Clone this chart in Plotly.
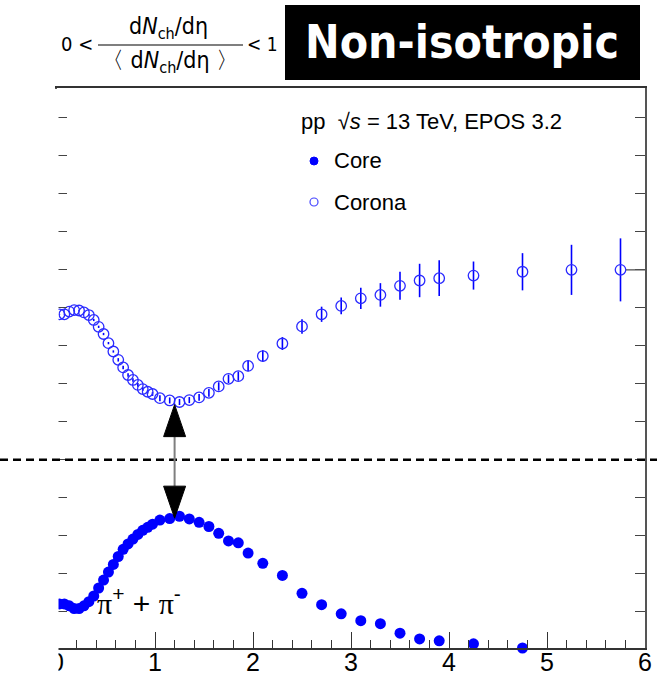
import plotly.graph_objects as go

# ---------------- data ----------------
pt = [0.025, 0.075, 0.125, 0.175, 0.225, 0.275, 0.325, 0.375, 0.425, 0.475,
      0.525, 0.575, 0.625, 0.675, 0.725, 0.775, 0.825, 0.875, 0.925, 0.975,
      1.05, 1.15, 1.25, 1.35, 1.45, 1.55, 1.65, 1.75, 1.85, 1.95,
      2.1, 2.3, 2.5, 2.7, 2.9, 3.1, 3.3, 3.5, 3.7, 3.9,
      4.25, 4.75, 5.25, 5.75]

corona = [8.79, 8.79, 8.86, 8.90, 8.89, 8.84, 8.77, 8.64, 8.46, 8.27,
          8.03, 7.81, 7.59, 7.39, 7.19, 7.06, 6.93, 6.82, 6.75, 6.69,
          6.58, 6.52, 6.48, 6.53, 6.60, 6.72, 6.89, 7.09, 7.16, 7.43,
          7.69, 8.02, 8.47, 8.79, 9.01, 9.21, 9.30, 9.54, 9.68, 9.74,
          9.81, 9.91, 9.96, 9.96]

corona_err = [0.01, 0.01, 0.01, 0.01, 0.01, 0.01, 0.03, 0.03, 0.03, 0.03,
              0.03, 0.03, 0.045, 0.045, 0.045, 0.045, 0.05, 0.05, 0.05, 0.05,
              0.08, 0.08, 0.08, 0.08, 0.09, 0.10, 0.11, 0.11, 0.12, 0.14,
              0.15, 0.17, 0.19, 0.20, 0.22, 0.28, 0.31, 0.37, 0.44, 0.47,
              0.37, 0.49, 0.66, 0.83]

core_pt = pt[:42]
core = [1.16, 1.16, 1.11, 1.04, 1.04, 1.11, 1.22, 1.37, 1.58, 1.79,
        2.00, 2.20, 2.41, 2.60, 2.74, 2.87, 2.99, 3.10, 3.18, 3.26,
        3.37, 3.41, 3.47, 3.40, 3.31, 3.20, 3.02, 2.82, 2.77, 2.50,
        2.23, 1.91, 1.44, 1.14, 0.90, 0.72, 0.64, 0.39, 0.24, 0.19,
        0.11, 0.00]

x_ticks = [0, 1, 2, 3, 4, 5, 6]
x_tick_labels = ["0", "1", "2", "3", "4", "5", "6"]

# ---------------- layout geometry ----------------
W, H = 657, 680
ML, MR, MT, MB = 57, 12, 88, 32
PW, PH = W - ML - MR, H - MT - MB
XR = [0, 6]
YR = [0, 14.75]
Y_TICK0 = 0.96
DASH_Y = Y_TICK0 + 4
LONG_TICK_Y = Y_TICK0 + 9
ARROW_X = 1.2
ARROW_TOP = 6.41
ARROW_BOT = 3.42

ux = (XR[1] - XR[0]) / PW
uy = (YR[1] - YR[0]) / PH


def fx(px):
    return (px - ML) / PW


def fy(py):
    return (H - MB - py) / PH


BLUE = "#0000ff"
FONT = "Liberation Sans, Arial, sans-serif"
NARROW = "Liberation Sans Narrow, DejaVu Sans Condensed, Liberation Sans, sans-serif"

fig = go.Figure()

fig.add_trace(go.Scatter(
    x=pt, y=corona, mode="markers",
    marker=dict(symbol="circle-open", size=10.5, color="#2a2aff",
                line=dict(width=1.3, color="#2a2aff")),
    error_y=dict(type="data", array=corona_err, visible=True,
                 color=BLUE, thickness=1.6, width=0),
    cliponaxis=False, showlegend=False, name="Corona"))

fig.add_trace(go.Scatter(
    x=core_pt, y=core, mode="markers",
    marker=dict(symbol="circle", size=11, color=BLUE, line=dict(width=0)),
    cliponaxis=False, showlegend=False, name="Core"))

shapes = []
# white mask on the left (the reference is cropped there)
shapes.append(dict(type="rect", xref="paper", yref="paper",
                   x0=fx(-5), x1=fx(58.5), y0=fy(H + 5), y1=fy(89),
                   fillcolor="white", line=dict(width=0), layer="above"))
# dashed separator across the whole width
shapes.append(dict(type="line", xref="paper", yref="y",
                   x0=fx(0), x1=fx(W), y0=DASH_Y, y1=DASH_Y,
                   line=dict(color="black", width=2.5, dash="8px,5px"),
                   layer="above"))
# longer right-hand tick
shapes.append(dict(type="line", xref="paper", yref="y",
                   x0=fx(626), x1=fx(645), y0=LONG_TICK_Y, y1=LONG_TICK_Y,
                   line=dict(color="#555", width=1.3), layer="above"))
# double arrow
HL, HW = 32, 22
shapes.append(dict(type="line", xref="x", yref="y",
                   x0=ARROW_X, x1=ARROW_X,
                   y0=ARROW_TOP - HL * uy, y1=ARROW_BOT + HL * uy,
                   line=dict(color="#7f7f7f", width=2), layer="above"))
for tip, sgn in ((ARROW_TOP, -1), (ARROW_BOT, 1)):
    base = tip + sgn * HL * uy
    path = (f"M {ARROW_X},{tip} L {ARROW_X - HW / 2 * ux},{base} "
            f"L {ARROW_X + HW / 2 * ux},{base} Z")
    shapes.append(dict(type="path", xref="x", yref="y", path=path,
                       fillcolor="black", line=dict(color="black", width=1),
                       layer="above"))
# header black box
shapes.append(dict(type="rect", xref="paper", yref="paper",
                   x0=fx(285), x1=fx(640), y0=fy(80), y1=fy(5),
                   fillcolor="black", line=dict(width=0), layer="above"))
# fraction bar
shapes.append(dict(type="line", xref="paper", yref="paper",
                   x0=fx(98), x1=fx(243), y0=fy(45), y1=fy(45),
                   line=dict(color="black", width=1.2), layer="above"))
# legend markers
shapes.append(dict(type="circle", xref="paper", yref="paper",
                   x0=fx(310), x1=fx(318), y0=fy(165), y1=fy(157),
                   fillcolor=BLUE, line=dict(color=BLUE, width=1), layer="above"))
shapes.append(dict(type="circle", xref="paper", yref="paper",
                   x0=fx(310), x1=fx(318), y0=fy(206), y1=fy(198),
                   fillcolor="rgba(0,0,0,0)", line=dict(color="#4444ff", width=1.2),
                   layer="above"))

ann = []


def text(px, py, s, size, xanchor="left", color="black", family=FONT):
    ann.append(dict(xref="paper", yref="paper", x=fx(px), y=fy(py), text=s,
                    showarrow=False, xanchor=xanchor, yanchor="middle",
                    font=dict(size=size, color=color, family=family)))


text(299, 121, "pp  √<i>s</i> = 13 TeV, EPOS 3.2", 22)
text(332, 160, "Core", 22)
text(332, 202, "Corona", 22)
text(95, 601, '<span style="font-family:Liberation Serif">π</span><sup>+</sup> + '
              '<span style="font-family:Liberation Serif">π</span><sup>-</sup>', 30)
# header
text(59, 44, "0 <", 20, family=NARROW)
text(168, 28, "d<i>N</i><sub>ch</sub>/dη", 23, xanchor="center", family=NARROW)
text(170, 62, "〈 d<i>N</i><sub>ch</sub>/dη 〉", 23, xanchor="center", family=NARROW)
text(245, 44, "< 1", 19, family=NARROW)
text(462, 42, "<b>Non-isotropic</b>", 46, xanchor="center", color="white", family=NARROW)

fig.update_layout(
    width=W, height=H,
    margin=dict(l=ML, r=MR, t=MT, b=MB, pad=0),
    paper_bgcolor="white", plot_bgcolor="white",
    font=dict(family=FONT, color="black"),
    shapes=shapes, annotations=ann,
    xaxis=dict(range=XR, showgrid=False, zeroline=False, automargin=False,
               tickmode="array", tickvals=x_ticks, ticktext=x_tick_labels,
               ticks="inside", ticklen=16, tickwidth=1.3, tickcolor="#333",
               minor=dict(ticks="inside", ticklen=8, dtick=0.2, tickwidth=1.2,
                          tickcolor="#333", showgrid=False),
               showline=True, linecolor="#333", linewidth=1.5, mirror=True,
               ticklabelstandoff=-9,
               tickfont=dict(size=25, family=FONT, color="black")),
    yaxis=dict(range=YR, showgrid=False, zeroline=False, automargin=False,
               tick0=Y_TICK0, dtick=1, ticks="inside", ticklen=10,
               tickwidth=1.3, tickcolor="#444", showticklabels=False,
               showline=True, linecolor="#555", linewidth=1.5, mirror="ticks"),
)

fig.write_html("out.html")
